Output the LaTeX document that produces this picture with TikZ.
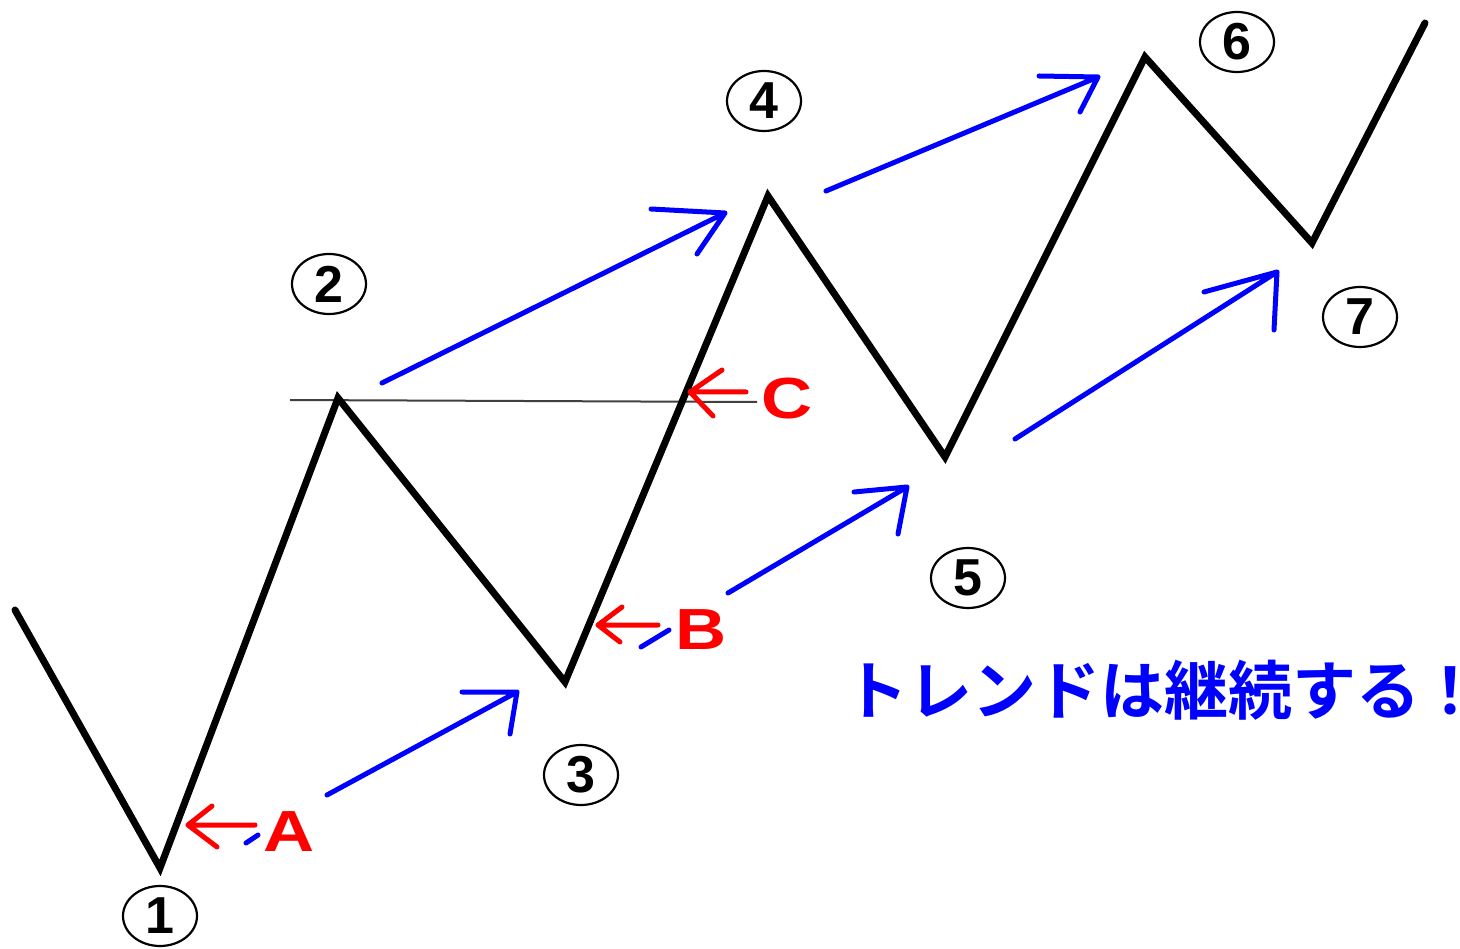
\documentclass[tikz,border=0pt]{standalone}
\usepackage{fontspec}
\setmainfont{Liberation Sans}
\newfontfamily\jpfont{Noto Sans CJK JP}[BoldFont={* Bold}]
\usetikzlibrary{shapes.geometric}
\definecolor{pureblue}{RGB}{0,0,255}
\definecolor{purered}{RGB}{255,0,0}
\begin{document}
\begin{tikzpicture}[x=1pt,y=-1pt,
  zig/.style={line width=7pt, black, line join=miter, line cap=round},
  bluearr/.style={line width=5pt, pureblue, line cap=round, line join=round},
  redarr/.style={line width=5pt, purered, line cap=round, line join=round},
  circnum/.style={ellipse, draw, line width=2.2pt, minimum width=74pt, minimum height=60pt, inner sep=0pt, font=\fontsize{52}{52}\selectfont\bfseries},
  letter/.style={text=purered, inner sep=0pt, font=\fontsize{58}{58}\selectfont\bfseries},
  levelline/.style={line width=2pt, black!75}
]
\fill[white] (0,0) rectangle (1460,949);
\useasboundingbox (0,0) rectangle (1460,949);

% zigzag points
\coordinate (s) at (15,610);
\coordinate (p1) at (160,868);
\coordinate (p2) at (338,398);
\coordinate (p3) at (565,682);
\coordinate (p4) at (768,196);
\coordinate (p5) at (945,457);
\coordinate (p6) at (1145,57);
\coordinate (p7) at (1312,243);
\coordinate (e) at (1425,23);

% level line at 2
\coordinate (l0) at (290,400);
\coordinate (l1) at (757,402);
\draw[levelline] (l0) -- (l1);

\draw[zig] (s) -- (p1) -- (p2) -- (p3) -- (p4) -- (p5) -- (p6) -- (p7) -- (e);

% circled numbers
\node[circnum] (n1) at (160,916) {1};
\node[circnum] (n2) at (329,284) {2};
\node[circnum] (n3) at (581,775) {3};
\node[circnum] (n4) at (764,101) {4};
\node[circnum] (n5) at (968,578) {5};
\node[circnum] (n6) at (1237,42) {6};
\node[circnum] (n7) at (1360,317) {7};

% blue arrows
\coordinate (a1s) at (327,795); \coordinate (a1t) at (517,692);
\draw[bluearr] (a1s) -- (a1t) -- (462,692) (a1t) -- (510,734);
\coordinate (a2s) at (382,383); \coordinate (a2t) at (725,213);
\draw[bluearr] (a2s) -- (a2t) -- (651,209) (a2t) -- (697,254);
\coordinate (a3s) at (728,593); \coordinate (a3t) at (907,487);
\draw[bluearr] (a3s) -- (a3t) -- (854,492) (a3t) -- (898,534);
\coordinate (a4s) at (826,191); \coordinate (a4t) at (1098,77);
\draw[bluearr] (a4s) -- (a4t) -- (1039,76) (a4t) -- (1080,112);
\coordinate (a5s) at (1015,439); \coordinate (a5t) at (1277,272);
\draw[bluearr] (a5s) -- (a5t) -- (1204,292) (a5t) -- (1274,330);
% small blue dashes
\coordinate (d1s) at (246,843); \coordinate (d1e) at (258,835);
\draw[bluearr] (d1s) -- (d1e);
\coordinate (d2s) at (641,647); \coordinate (d2e) at (669,630);
\draw[bluearr] (d2s) -- (d2e);

% red arrows and letters
\node[letter] (A) at (289,832) {\scalebox{1.22}[1]{A}};
\node[letter] (B) at (701,630) {\scalebox{1.22}[1]{B}};
\node[letter] (C) at (787,399) {\scalebox{1.22}[1]{C}};
\coordinate (rAt) at (188,825); \coordinate (rAs) at (255,825);
\draw[redarr] (rAs) -- (rAt) -- (212,806) (rAt) -- (217,847);
\coordinate (rBt) at (598,625); \coordinate (rBs) at (658,625);
\draw[redarr] (rBs) -- (rBt) -- (622,607) (rBt) -- (620,642);
\coordinate (rCt) at (690,392); \coordinate (rCs) at (746,392);
\draw[redarr] (rCs) -- (rCt) -- (722,370) (rCt) -- (713,416);

% slogan
\node[anchor=west, inner sep=0pt, text=pureblue, font=\jpfont\bfseries\fontsize{64}{64}\selectfont] (slogan) at (844,690) {トレンドは継続する\hspace*{14pt}{\addfontfeatures{RawFeature=+palt}！}};
\end{tikzpicture}
\end{document}
